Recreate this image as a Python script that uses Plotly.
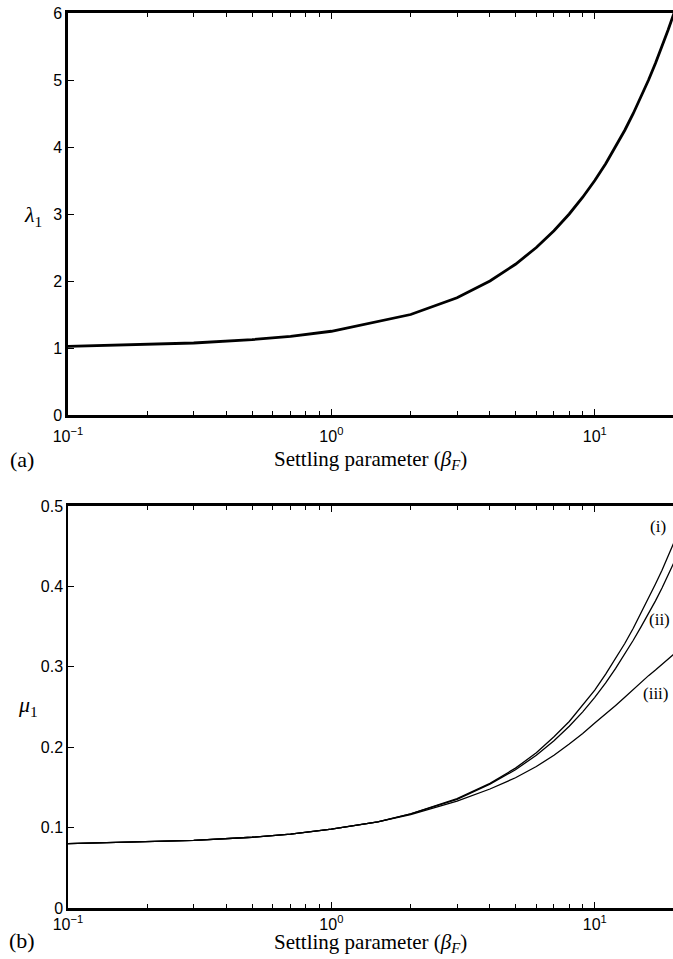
import plotly.graph_objects as go

# ---- data ----
beta_a = [0.1, 0.2, 0.3, 0.5, 0.7, 1, 2, 3, 4, 5, 6, 7, 8, 9, 10, 11, 12, 13, 14,
          15, 16, 17, 18, 19, 20]
lambda1 = [1.025, 1.05, 1.075, 1.125, 1.175, 1.25, 1.5, 1.75, 2.0, 2.25, 2.5, 2.75,
           3.0, 3.25, 3.5, 3.75, 4.0, 4.25, 4.5, 4.75, 5.0, 5.25, 5.5, 5.75, 6.0]

beta_b = [0.1, 0.2, 0.3, 0.5, 0.7, 1, 1.5, 2, 3, 4, 5, 6, 7, 8, 9, 10, 11, 12, 13,
          14, 15, 16, 17, 18, 19, 20]
mu1_i = [0.080, 0.082, 0.084, 0.088, 0.092, 0.098, 0.107, 0.117, 0.136, 0.155, 0.174,
         0.193, 0.213, 0.232, 0.252, 0.271, 0.291, 0.310, 0.329, 0.348, 0.367, 0.385,
         0.403, 0.420, 0.438, 0.455]
mu1_ii = [0.080, 0.082, 0.084, 0.088, 0.092, 0.098, 0.107, 0.117, 0.135, 0.154, 0.172,
          0.190, 0.208, 0.226, 0.244, 0.262, 0.280, 0.298, 0.316, 0.333, 0.350, 0.366,
          0.382, 0.398, 0.414, 0.430]
mu1_iii = [0.080, 0.082, 0.084, 0.088, 0.092, 0.098, 0.107, 0.116, 0.133, 0.148, 0.162,
           0.176, 0.190, 0.204, 0.217, 0.230, 0.241, 0.252, 0.262, 0.272, 0.281, 0.289,
           0.296, 0.303, 0.310, 0.316]
curve_labels = ["(i)", "(ii)", "(iii)"]

x_tickvals = [0.1, 1, 10]
x_ticktext = ["10<sup>−1</sup>", "10<sup>0</sup>", "10<sup>1</sup>"]
x_minor = [0.2, 0.3, 0.4, 0.5, 0.6, 0.7, 0.8, 0.9, 2, 3, 4, 5, 6, 7, 8, 9]
ya_ticks = [0, 1, 2, 3, 4, 5, 6]
yb_ticks = [0, 0.1, 0.2, 0.3, 0.4, 0.5]
yb_text = ["0", "0.1", "0.2", "0.3", "0.4", "0.5"]

W, H = 673, 959
TOP, BOT = 13, 908
PH = BOT - TOP


def py(p):
    return (BOT - p) / PH


def px(p):
    return (p - 68) / (W - 68)


fig = go.Figure()
fig.add_trace(go.Scatter(x=beta_a, y=lambda1, mode="lines",
                         line=dict(color="black", width=2.8), xaxis="x", yaxis="y"))
for ys in (mu1_i, mu1_ii, mu1_iii):
    fig.add_trace(go.Scatter(x=beta_b, y=ys, mode="lines",
                             line=dict(color="black", width=1.3), xaxis="x2", yaxis="y2"))

tickfont = dict(family="Liberation Sans, Arial, sans-serif", size=16, color="black")
xcommon = dict(type="log", range=[-1, 1.297], tickmode="array", tickvals=x_tickvals,
               ticktext=x_ticktext, ticks="inside", ticklen=6, tickwidth=1,
               tickcolor="black", showline=True, linecolor="black", mirror="ticks",
               showgrid=False, zeroline=False, tickfont=tickfont,
               minor=dict(tickvals=x_minor, ticks="inside", ticklen=4,
                          tickcolor="black", showgrid=False))
ycommon = dict(tickmode="array", ticks="inside", ticklen=6, tickwidth=1,
               tickcolor="black", showline=True, linecolor="black", mirror=False,
               showgrid=False, zeroline=False, tickfont=tickfont)
yright = dict(tickmode="array", ticks="inside", ticklen=6, tickwidth=1,
              tickcolor="black", showline=False, showgrid=False, zeroline=False,
              showticklabels=False, side="right")

dom_a = [py(415), 1]
dom_b = [0, py(506)]
fig.update_layout(
    width=W, height=H,
    margin=dict(l=68, r=0, t=TOP, b=H - BOT),
    paper_bgcolor="white", plot_bgcolor="white",
    showlegend=False,
    xaxis=dict(**xcommon, domain=[0, 1], anchor="y", linewidth=2.5, ticklabelstandoff=5),
    yaxis=dict(**ycommon, range=[0, 6], tickvals=ya_ticks, domain=dom_a,
               anchor="x", linewidth=2.5),
    yaxis3=dict(**yright, range=[0, 6], tickvals=ya_ticks, domain=dom_a,
                anchor="x", overlaying="y"),
    xaxis2=dict(**xcommon, domain=[0, 1], anchor="y2", linewidth=2.5),
    yaxis2=dict(**ycommon, range=[0, 0.5], tickvals=yb_ticks, ticktext=yb_text,
                domain=dom_b, anchor="x2", linewidth=1.5),
    yaxis4=dict(**yright, range=[0, 0.5], tickvals=yb_ticks, domain=dom_b,
                anchor="x2", overlaying="y2"),
)

serif = "Liberation Serif, Times New Roman, serif"
ann = [
    dict(text="<i>λ</i><sub>1</sub>", x=px(33), y=py(216), size=22),
    dict(text="<i>μ</i><sub>1</sub>", x=px(28), y=py(706), size=22),
    dict(text="Settling parameter (<i>β</i><sub><i>F</i></sub>)", x=px(370), y=py(460), size=21),
    dict(text="Settling parameter (<i>β</i><sub><i>F</i></sub>)", x=px(370), y=py(943), size=21),
    dict(text="(a)", x=px(22), y=py(459), size=22),
    dict(text="(b)", x=px(22), y=py(940), size=22),
]
for a in ann:
    fig.add_annotation(text=a["text"], x=a["x"], y=a["y"], xref="paper", yref="paper",
                       showarrow=False, xanchor="center", yanchor="middle",
                       font=dict(family=serif, size=a["size"], color="black"))

lab_pos = [(658, 526), (659, 619), (656, 693)]
for t, (lx, ly) in zip(curve_labels, lab_pos):
    fig.add_annotation(text=t, x=px(lx), y=py(ly), xref="paper", yref="paper",
                       showarrow=False, xanchor="center", yanchor="middle",
                       font=dict(family=serif, size=17, color="black"))

fig.write_html("out.html", config={"displayModeBar": False},
               post_script="document.body.style.margin='0';document.body.style.overflow='hidden';")
